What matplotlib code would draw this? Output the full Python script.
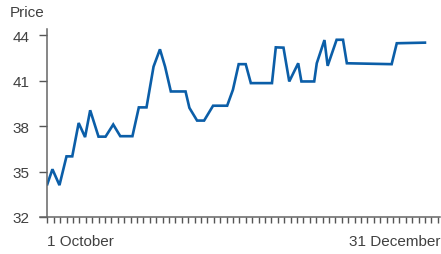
import numpy as np
import matplotlib
matplotlib.use("Agg")
import matplotlib.pyplot as plt
import matplotlib.transforms as mtransforms

# price series, x in trading-day units (one unit per tick on the axis)
days = [0, 0.8, 1.9, 3.0, 3.9, 4.9, 5.9, 6.7, 8.0, 9.1, 10.3, 11.4, 13.3,
        14.3, 15.5, 16.6, 17.6, 18.4, 19.3, 21.6, 22.2, 23.4, 24.5, 25.9,
        28.1, 29.0, 29.9, 31.0, 31.8, 35.1, 35.7, 36.9, 37.8, 39.2, 39.7,
        41.7, 42.1, 43.3, 43.8, 45.2, 46.2, 46.8, 53.8, 54.6, 59.0]
price = [34.16, 35.15, 34.10, 36.00, 36.00, 38.20, 37.27, 39.04, 37.30, 37.30,
         38.10, 37.33, 37.33, 39.23, 39.23, 41.92, 43.06, 41.92, 40.28, 40.28,
         39.20, 38.36, 38.36, 39.34, 39.34, 40.39, 42.08, 42.08, 40.83, 40.83,
         43.19, 43.17, 40.94, 42.14, 40.94, 40.94, 42.14, 43.67, 41.97, 43.69,
         43.69, 42.14, 42.08, 43.46, 43.50]

y_ticks = [32, 35, 38, 41, 44]
n_ticks = 62
first_label = "1 October"
last_label = "31 December"

plt.rcParams['font.family'] = ['Liberation Sans', 'DejaVu Sans']
txt_color = '#404040'
fsize = 11

fig = plt.figure(figsize=(4.41, 2.55), dpi=100)
ax = fig.add_axes([47.3 / 441, 37 / 255, 393 / 441, 188 / 255])

ax.plot(days, price, color='#0b5ea8', linewidth=1.9, solid_joinstyle='miter')

ax.set_xlim(0, 61.4)
ax.set_ylim(32, 44.4)

ax.set_yticks(y_ticks)
ax.set_yticklabels([str(v) for v in y_ticks], fontsize=fsize, color=txt_color)
ax.set_xticks(np.arange(n_ticks))
ax.set_xticklabels([])

ax.tick_params(axis='y', direction='out', length=6, width=1, color='#555555', pad=7)
ax.tick_params(axis='x', direction='out', length=4, width=1, color='#555555')

for side in ['top', 'right']:
    ax.spines[side].set_visible(False)
for side in ['left', 'bottom']:
    ax.spines[side].set_color('#666666')
    ax.spines[side].set_linewidth(1.1)
# x axis line runs a little left of the y axis
ax.spines['bottom'].set_bounds(-1.1, 61.4)

trans = mtransforms.blended_transform_factory(ax.transData, ax.transAxes)
ax.text(0, -0.09, first_label, transform=trans, ha='left', va='top',
        fontsize=fsize, color=txt_color)
ax.text(61.4, -0.09, last_label, transform=trans, ha='right', va='top',
        fontsize=fsize, color=txt_color)

fig.text(10 / 441, 1 - 6 / 255, "Price", ha='left', va='top',
         fontsize=fsize, color=txt_color)

fig.savefig("out.png", dpi=100)
